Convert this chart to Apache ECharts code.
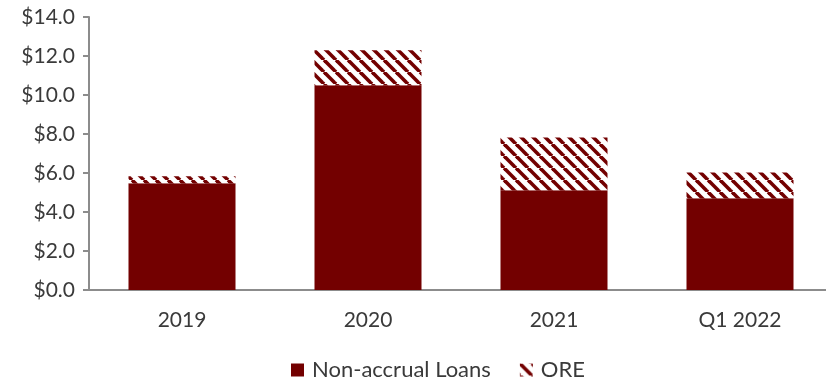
<!DOCTYPE html>
<html>
<head>
<meta charset="utf-8">
<script src="https://cdn.jsdelivr.net/npm/echarts@6/dist/echarts.min.js"></script>
<style>
  html, body { margin: 0; padding: 0; background: #fff; overflow: hidden; }
  /* the plot runs off the right edge, so the canvas is a little wider than the window */
  #chart { width: 845px; height: 385px; }
</style>
</head>
<body>
<div id="chart"></div>
<script>
// Problem assets, $ billions
const categories = ['2019', '2020', '2021', 'Q1 2022'];
const nonAccrualLoans = [5.47, 10.5, 5.12, 4.7];
const ore = [0.36, 1.8, 2.7, 1.33];
const seriesNames = ['Non-accrual Loans', 'ORE'];

const DARK_RED = '#730000';

// Diagonal "\" hatch tile for the ORE series
function hatchTile() {
  const size = 12;
  const c = document.createElement('canvas');
  c.width = size; c.height = size;
  const ctx = c.getContext('2d');
  ctx.fillStyle = '#ffffff';
  ctx.fillRect(0, 0, size, size);
  ctx.strokeStyle = DARK_RED;
  ctx.lineWidth = 3.6;
  for (const off of [-size, 0, size]) {
    ctx.beginPath();
    ctx.moveTo(off, 0);
    ctx.lineTo(off + size, size);
    ctx.stroke();
  }
  return c;
}

const chart = echarts.init(document.getElementById('chart'), null, { renderer: 'canvas' });
const FONT = 'Lato, "Open Sans", sans-serif';
const TEXT = '#3a3a3a';

chart.setOption({
  animation: false,
  grid: { left: 89, top: 17, width: 744, height: 273, containLabel: false },
  legend: {
    top: 359,
    left: 291,
    padding: 0,
    itemWidth: 13,
    itemHeight: 13,
    itemGap: 29,
    textStyle: { fontFamily: FONT, fontSize: 22, color: TEXT, padding: [0, 0, 0, 3] },
    data: [
      { name: seriesNames[0], icon: 'rect' },
      { name: seriesNames[1], icon: 'rect' }
    ]
  },
  xAxis: {
    type: 'category',
    data: categories,
    axisLine: { lineStyle: { color: '#8c8c8c', width: 2 } },
    axisTick: { show: false },
    axisLabel: { fontFamily: FONT, fontSize: 21, color: TEXT, margin: 20 }
  },
  yAxis: {
    type: 'value',
    min: 0,
    max: 14,
    interval: 2,
    splitLine: { show: false },
    axisLine: { show: true, lineStyle: { color: '#8c8c8c', width: 2 } },
    axisTick: { show: true, length: 6, lineStyle: { color: '#8c8c8c', width: 2 } },
    axisLabel: {
      fontFamily: FONT, fontSize: 21, color: TEXT, margin: 14,
      formatter: v => '$' + v.toFixed(1)
    }
  },
  series: [
    {
      name: seriesNames[0],
      type: 'bar',
      stack: 'total',
      barWidth: 107,
      data: nonAccrualLoans,
      itemStyle: { color: DARK_RED }
    },
    {
      name: seriesNames[1],
      type: 'bar',
      stack: 'total',
      barWidth: 107,
      data: ore,
      itemStyle: {
        color: { image: hatchTile(), repeat: 'repeat' }
      }
    }
  ]
});
</script>
</body>
</html>
